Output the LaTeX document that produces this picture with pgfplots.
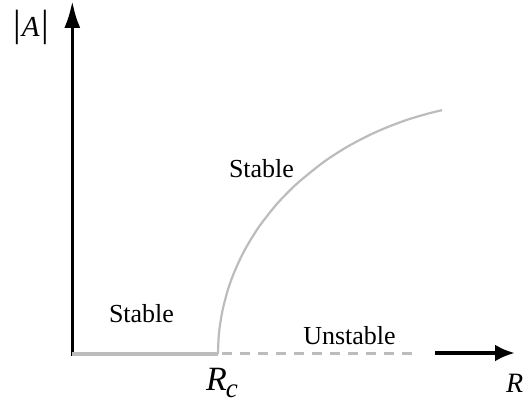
\documentclass[border=0pt]{standalone}
\usepackage{pgfplots}
\pgfplotsset{compat=1.18}
\usetikzlibrary{arrows.meta}
\usepackage{fontspec}
\setmainfont{Liberation Serif}

\definecolor{branch}{RGB}{188,188,188}

\begin{document}
\begin{tikzpicture}
\begin{axis}[
    width=523pt, height=408pt,
    scale only axis,
    xmin=-72, xmax=451,
    ymin=-54, ymax=354,
    hide axis,
    clip=false,
]
% |A| axis
\addplot[black, line width=3.3pt, -{Latex[length=27pt,width=16pt]}] coordinates {(0.3,-2) (0.3,353)};
% stable trivial branch
\addplot[branch, line width=4.5pt] coordinates {(0,0) (146,0)};
% unstable trivial branch
\addplot[branch, line width=2.2pt, dash pattern=on 10pt off 8pt, dash phase=14pt] coordinates {(146,0.5) (346,0.5)};
% R axis
\addplot[black, line width=4pt, -{Latex[length=20pt,width=17pt]}] coordinates {(363,1) (443,1)};
% bifurcated branch
\addplot[branch, line width=2.2pt, smooth] coordinates {
(146,0) (146.5,14.5) (148,29.1) (151,45.8) (156,64.5) (161,78.7) (168,94.7)
(175,108.1) (184,122.8) (191,132.7) (201,145.4) (210,155.6) (226,171.3)
(251,191.5) (271,204.7) (285,212.6) (301,220.6) (318,227.9) (336,234.5)
(356,240.4) (370,243.8)
};
\node[font=\fontsize{26}{30}\selectfont] at (axis cs:69.5,40.5) {Stable};
\node[font=\fontsize{26}{30}\selectfont] at (axis cs:189.5,185.5) {Stable};
\node[font=\fontsize{26}{30}\selectfont] at (axis cs:277.5,18) {Unstable};
\node[anchor=base west, inner sep=0pt] at (axis cs:-59,317)
  {{\fontsize{38}{40}\selectfont|}\kern1pt{\fontsize{29}{32}\selectfont\textit{A}}\kern2pt{\fontsize{38}{40}\selectfont|}};
\node[anchor=base west, inner sep=0pt] at (axis cs:134,-36)
  {\fontsize{34}{38}\selectfont\textit{R}\kern-1pt\raisebox{-7pt}{\fontsize{27}{30}\selectfont\textit{c}}};
\node[anchor=base west, inner sep=0pt, font=\fontsize{28}{32}\selectfont] at (axis cs:434,-38) {\textit{R}};
\end{axis}
\pgfresetboundingbox
\path[use as bounding box] (current axis.south west) rectangle (current axis.north east);
\end{tikzpicture}
\end{document}
